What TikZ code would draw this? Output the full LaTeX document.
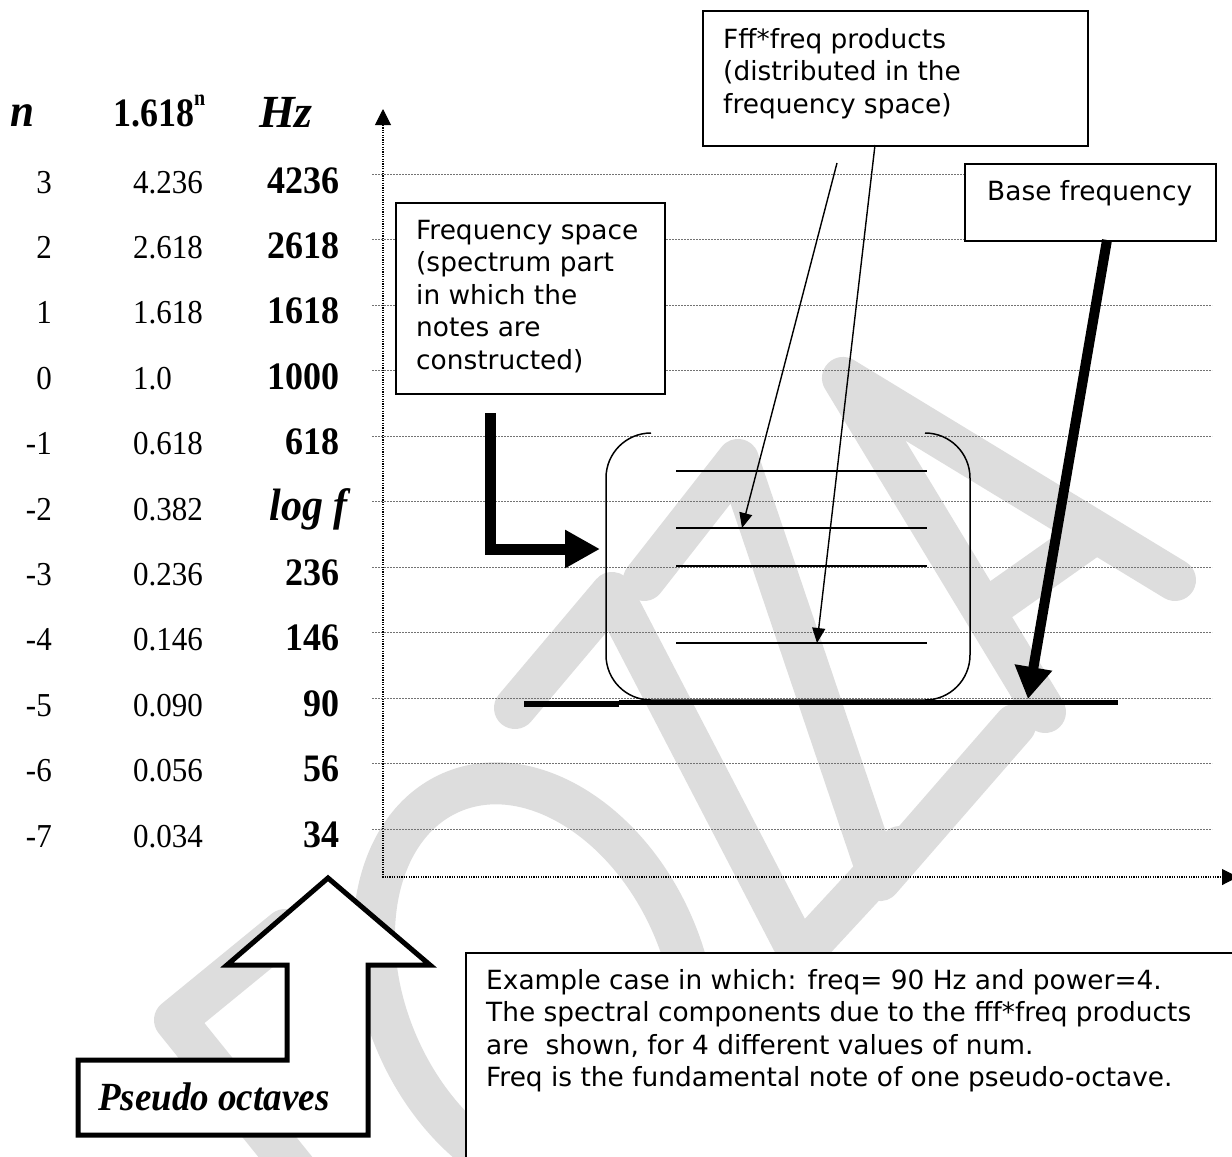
\documentclass[tikz,border=0pt]{standalone}
\usepackage{fontspec}
\setmainfont{Liberation Serif}
\newfontfamily\vfont{DejaVu Sans}
\usetikzlibrary{arrows.meta}
\definecolor{wmgray}{RGB}{221,221,221}
\definecolor{gridgray}{RGB}{115,115,115}
\newcommand{\mlines}[1]{\vtop{\baselineskip=32.5pt\lineskiplimit=-100pt #1}}
\newcommand{\tall}[1]{\scalebox{1}[1.08]{#1}}
\begin{document}
\begin{tikzpicture}[x=1pt,y=-1pt,
  wmstroke/.style={draw=wmgray, line width=42pt, line cap=round, line join=round},
  gridline/.style={draw=gridgray, line width=0.8pt, dash pattern=on 2pt off 1pt},
  axisline/.style={draw=black, line width=1.6pt, dash pattern=on 1.2pt off 1.2pt},
  tiparrow/.style={line width=1pt, -{Triangle[length=16pt,width=16pt]}},
  box/.style={draw=black, line width=2pt, fill=white, inner sep=0pt, anchor=north west},
  boxtext/.style={anchor=base west, inner sep=0pt, font=\vfont\fontsize{26.4}{32.5}\selectfont},
  ncol/.style={anchor=base east, inner sep=0pt, font=\fontsize{31}{31}\selectfont},
  vcol/.style={anchor=base west, inner sep=0pt, font=\fontsize{31}{31}\selectfont},
  hzcol/.style={anchor=base east, inner sep=0pt, font=\bfseries\fontsize{36}{36}\selectfont},
  headbi/.style={anchor=base west, inner sep=0pt, font=\bfseries\itshape\fontsize{43}{43}\selectfont},
  thinarrow/.style={line width=1.4pt, -{Triangle[length=15pt,width=13pt]}},
  thickarrow/.style={line width=10pt, -{Triangle[length=32pt,width=36pt]}},
  specline/.style={line width=1.8pt}
]
\useasboundingbox (0,0) rectangle (1232,1157);
\fill[white] (0,0) rectangle (1232,1157);

% ---------- watermark ----------
\begin{scope}[rotate around={23.5:(535,985)}]
  \draw[draw=wmgray, line width=42pt] (535,985) ellipse [x radius=150pt, y radius=210pt];
\end{scope}
\draw[wmstroke] (285,930) -- (175,1020) -- (320,1200);
\draw[wmstroke] (515,708) -- (612,593) -- (800,955) -- (900,847);
\draw[wmstroke] (644,580) -- (738,460) -- (880,880) -- (1015,725);
\draw[wmstroke] (1175,580) -- (843,378) -- (1045,712);
\draw[wmstroke] (1000,600) -- (1085,540);

% ---------- grid lines ----------
\foreach \k in {0,...,10}
  \draw[gridline] (372,{174+65.5*\k}) -- (1212,{174+65.5*\k});

% ---------- axes ----------
\coordinate (org) at (383,877);
\coordinate (ytop) at (383,125);
\coordinate (ytip) at (383,109);
\coordinate (xend) at (1222,877);
\coordinate (xtip) at (1238,877);
\draw[axisline] (ytop) -- (org) -- (xend);
\draw[tiparrow] (ytop) -- (ytip);
\draw[tiparrow] (xend) -- (xtip);

% ---------- table ----------
\node[headbi] (hn) at (10,126) {\tall{n}};
\node[anchor=base west, inner sep=0pt, font=\bfseries\fontsize{36}{36}\selectfont] (hp) at (113,126) {\scalebox{1}[1.12]{1.618\raisebox{18pt}{\fontsize{20}{20}\selectfont n}}};
\node[headbi, font=\bfseries\itshape\fontsize{46}{46}\selectfont] (hhz) at (259,127) {Hz};
\foreach \n/\v/\h [count=\i from 0] in {3/4.236/4236, 2/2.618/2618, 1/1.618/1618, 0/1.0/1000, -1/0.618/618, -2/0.382/, -3/0.236/236, -4/0.146/146, -5/0.090/90, -6/0.056/56, -7/0.034/34} {
  \node[ncol] (n\i) at (52,{193+65.4*\i}) {\tall{\n}};
  \node[vcol] (v\i) at (133,{193+65.4*\i}) {\tall{\v}};
  \node[hzcol] (h\i) at (340,{193+65.4*\i}) {\tall{\h}};
}
\node[anchor=base east, inner sep=0pt, font=\bfseries\itshape\fontsize{42}{42}\selectfont] (logf) at (348,{193+65.4*5}) {\tall{log f}};

% ---------- frequency space bracket ----------
\draw[line width=1.5pt, rounded corners=45pt] (651,433) -- (606,433) -- (606,700) -- (970,700) -- (970,433) -- (925,433);
\foreach \yy [count=\j] in {471,528,566,643}
  \draw[specline] (676,\yy) coordinate (sl\j a) -- (927,\yy) coordinate (sl\j b);
\draw[line width=6pt] (524,704) -- (619,704);
\draw[line width=5pt] (619,702) coordinate (bl) -- (1118,702) coordinate (br);

% ---------- boxes ----------
\node[box, minimum width=269pt, minimum height=191pt] (fsbox) at (395,202) {};
\node[boxtext] (fstext) at (416,239) {\mlines{\hbox{Frequency space}\hbox{(spectrum part}\hbox{in which the}\hbox{notes are}\hbox{constructed)}}};

\node[box, minimum width=385pt, minimum height=135pt] (fffbox) at (702,10) {};
\node[boxtext] (ffftext) at (723,48) {\mlines{\hbox{Fff*freq products}\hbox{(distributed in the}\hbox{frequency space)}}};

\node[box, minimum width=251pt, minimum height=77pt] (basebox) at (964,163) {};
\node[boxtext] (basetext) at (987,200) {Base frequency};

\node[box, line width=1.6pt, minimum width=800pt, minimum height=260pt] (exbox) at (465,952) {};
\node[boxtext] (extext) at (486,989) {\mlines{\hbox{Example case in which: freq= 90 Hz and power=4.}\hbox{The spectral components due to the fff*freq products}\hbox{are\ \ shown, for 4 different values of num.}\hbox{Freq is the fundamental note of one pseudo-octave.}}};

% ---------- arrows ----------
\coordinate (f1s) at (837,163);
\coordinate (f1e) at (742,528);
\coordinate (f2s) at (875,145);
\coordinate (f2e) at (817,643);
\draw[thinarrow] (f1s) -- (f1e);
\draw[thinarrow] (f2s) -- (f2e);

\coordinate (bs) at (1107,240);
\coordinate (be) at (1028,699);
\draw[thickarrow] (bs) -- (be);

\coordinate (ls) at (490,413);
\coordinate (lc) at (490,549);
\coordinate (le) at (600,549);
\draw[line width=11pt, -{Triangle[length=35pt,width=36pt]}] (ls) -- (lc) -- (le);

% ---------- pseudo octaves arrow ----------
\draw[line width=5pt, fill=white] (78,1060) -- (287,1060) -- (287,965) -- (227,965) -- (328,878) -- (430,965) -- (368,965) -- (368,1135) -- (78,1135) -- cycle;
\node[anchor=base west, inner sep=0pt, font=\bfseries\itshape\fontsize{37}{37}\selectfont] (pseudo) at (98,1110) {\tall{Pseudo octaves}};
\end{tikzpicture}
\end{document}
